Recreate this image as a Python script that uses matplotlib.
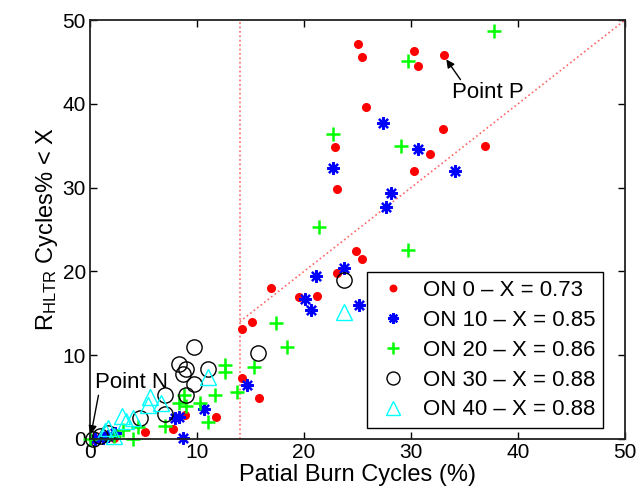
import matplotlib
matplotlib.use("Agg")
import matplotlib.pyplot as plt

plt.rcParams['font.family'] = ['Liberation Sans', 'DejaVu Sans']
plt.rcParams['mathtext.fontset'] = 'custom'
plt.rcParams['mathtext.rm'] = 'Liberation Sans'
plt.rcParams['mathtext.it'] = 'Liberation Sans:italic'

# ON 0 (red dots)
on0_x = [25.0, 25.4, 22.9, 23.1, 30.3, 30.7, 33.1, 25.8, 33.0, 31.8, 36.9, 30.3,
         24.9, 25.4, 23.1, 16.9, 19.5, 21.2, 14.2, 15.1, 14.2, 15.8, 8.9, 11.8,
         7.8, 5.1, 2.2, 1.0, 0.3]
on0_y = [47.1, 45.6, 34.9, 29.8, 46.3, 44.5, 45.8, 39.6, 37.0, 34.0, 35.0, 32.0,
         22.4, 21.5, 19.8, 18.0, 16.9, 17.1, 13.1, 14.0, 7.3, 4.9, 2.9, 2.6,
         1.2, 0.8, 0.1, 0.3, 0.0]
# ON 10 (blue stars)
on10_x = [22.7, 27.4, 30.7, 34.1, 28.1, 27.7, 23.7, 25.1, 21.1, 20.1, 20.7, 14.7,
          10.7, 7.9, 8.3, 8.7, 1.2, 2.3, 1.7, 0.5]
on10_y = [32.3, 37.7, 34.6, 32.0, 29.4, 27.7, 20.4, 16.0, 19.4, 16.7, 15.4, 6.4,
          3.6, 2.5, 2.6, 0.1, 0.1, 0.7, 0.4, 0.0]
# ON 20 (green plus)
on20_x = [37.8, 29.7, 29.1, 22.7, 21.4, 29.7, 17.4, 18.4, 12.6, 12.6, 15.3, 13.7,
          11.7, 10.3, 8.8, 8.3, 9.0, 11.0, 7.0, 4.5, 3.1, 4.0, 0.0, 2.2]
on20_y = [48.7, 45.1, 35.0, 36.4, 25.3, 22.6, 13.9, 11.0, 8.8, 8.0, 8.6, 5.6,
          5.3, 4.3, 5.3, 4.3, 3.9, 2.0, 1.6, 1.4, 1.1, 0.0, 0.0, 0.3]
# ON 30 (black circles)
on30_x = [23.7, 9.7, 15.7, 8.3, 9.0, 11.0, 8.7, 9.7, 9.0, 7.0, 7.0, 4.7, 0.9, 1.7, 0.3]
on30_y = [19.0, 11.0, 10.3, 8.9, 8.4, 8.3, 7.7, 6.6, 5.3, 5.3, 3.0, 2.5, 0.3, 0.7, 0.0]
# ON 40 (cyan triangles)
on40_x = [23.7, 11.0, 5.6, 6.6, 5.4, 3.0, 4.0, 3.4, 1.7, 1.4, 2.2]
on40_y = [15.2, 7.4, 5.0, 4.3, 4.1, 2.7, 2.5, 2.1, 1.3, 0.9, 0.4]

labels = ['ON 0 \u2013 X = 0.73', 'ON 10 \u2013 X = 0.85', 'ON 20 \u2013 X = 0.86',
          'ON 30 \u2013 X = 0.88', 'ON 40 \u2013 X = 0.88']

threshold = 14
xmax = 50

fig = plt.figure(figsize=(6.4, 4.98), dpi=100)
ax = fig.add_axes([0.1406, 0.1185, 0.8360, 0.8413])

ax.plot([threshold, threshold], [0, xmax], color=(1, 0.4, 0.4), ls=':', lw=1.2, zorder=1)
ax.plot([threshold, xmax], [threshold, xmax], color=(1, 0.4, 0.4), ls=':', lw=1.2, zorder=1)

ax.plot(on0_x, on0_y, ls='none', marker='o', ms=5.5, mfc='red', mec='red', label=labels[0], clip_on=False)
ax.plot(on10_x, on10_y, ls='none', marker=(8, 2, 0), ms=9, mew=1.6, mec='blue', color='blue', label=labels[1], clip_on=False)
ax.plot(on20_x, on20_y, ls='none', marker='+', ms=10, mew=1.8, color=(0, 1, 0), label=labels[2], clip_on=False)
ax.plot(on30_x, on30_y, ls='none', marker='o', ms=11, mfc='none', mec='black', mew=1, label=labels[3], clip_on=False)
ax.plot(on40_x, on40_y, ls='none', marker='^', ms=12, mfc='none', mec='cyan', mew=1, label=labels[4], clip_on=False)

ax.set_xlim(0, 50)
ax.set_ylim(0, 50)
ax.set_xticks([0, 10, 20, 30, 40, 50])
ax.set_yticks([0, 10, 20, 30, 40, 50])
ax.tick_params(direction='in', top=True, right=True, labelsize=15, length=5, width=1, pad=3)
for s in ax.spines.values():
    s.set_linewidth(1.3)
    s.set_color('#222222')

ax.set_xlabel('Patial Burn Cycles (%)', fontsize=17, labelpad=1)
ax.set_ylabel(r'R$_{\mathrm{HLTR}}$ Cycles% < X', fontsize=17, labelpad=2)

ax.annotate('Point P', xy=(33.3, 45.3), xytext=(33.8, 41.3), fontsize=16,
            va='center', ha='left',
            arrowprops=dict(arrowstyle='-|>', color='black', lw=1, mutation_scale=12,
                            shrinkA=0, shrinkB=0, relpos=(0.15, 1.0)))
ax.annotate('Point N', xy=(0.1, 0.6), xytext=(0.5, 6.8), fontsize=16,
            va='center', ha='left',
            arrowprops=dict(arrowstyle='-|>', color='black', lw=1, mutation_scale=12,
                            shrinkA=0, shrinkB=0, relpos=(0.05, 0.0)))

leg = ax.legend(loc='lower right', bbox_to_anchor=(0.968, 0.015), fontsize=16,
                frameon=True, fancybox=False, edgecolor='black', framealpha=1,
                handletextpad=0.5, borderpad=0.35, labelspacing=0.4, handlelength=1.7,
                borderaxespad=0.2, markerscale=0.85)
leg.get_frame().set_linewidth(1)

fig.savefig('out.png', dpi=100)
